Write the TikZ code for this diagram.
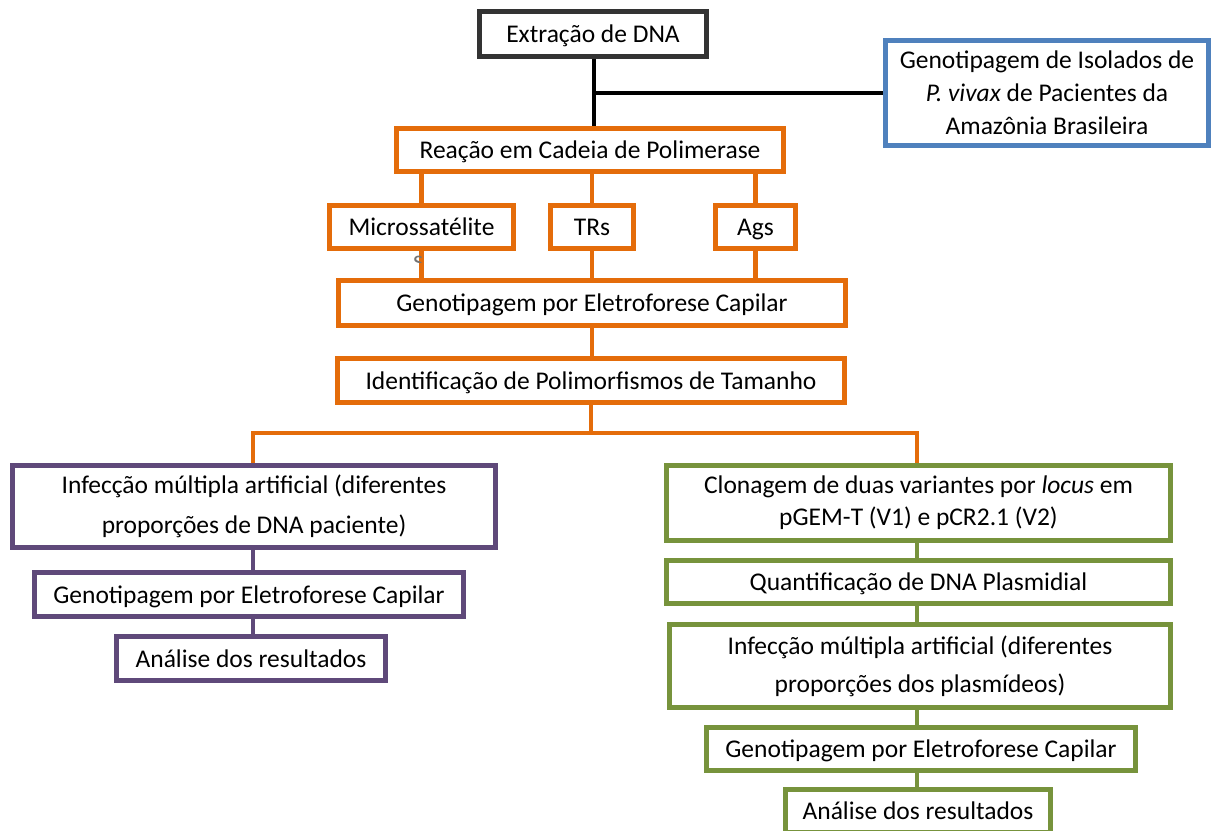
\documentclass[tikz,border=0pt]{standalone}
\usepackage{fontspec}
\setmainfont{Carlito}
\usetikzlibrary{backgrounds}
\definecolor{cor}{HTML}{E46C0A}
\definecolor{cpu}{HTML}{5F497A}
\definecolor{cgr}{HTML}{77933C}
\definecolor{cbl}{HTML}{4F81BD}
\definecolor{cdk}{HTML}{333333}
\tikzset{
  box/.style={draw, line width=5pt, fill=white, inner sep=0pt, align=center,
    font=\fontsize{25.5}{35}\selectfont},
  sline/.style={text height=17pt, text depth=0pt},
  obox/.style={box, draw=cor},
  pbox/.style={box, draw=cpu},
  gbox/.style={box, draw=cgr},
  bbox/.style={box, draw=cbl},
  kbox/.style={box, draw=cdk},
  conn/.style={line width=4.5pt},
}
\begin{document}
\begin{tikzpicture}[x=1pt, y=-1pt]
\useasboundingbox (0,0) rectangle (1214,830);
\begin{scope}
\clip (0,0) rectangle (1214,830);
% top
\node[kbox, sline, minimum width=227pt, minimum height=45pt] (ext) at (593,34) {Extração de DNA};
\node[bbox, minimum width=323pt, minimum height=105pt, font=\fontsize{25.5}{33}\selectfont] (iso) at (1047,93)
  {Genotipagem de Isolados de\\\textit{P. vivax} de Pacientes da\\Amazônia Brasileira};
\node[obox, sline, minimum width=387pt, minimum height=43pt] (pcr) at (590,150) {Reação em Cadeia de Polimerase};
% markers
\node[obox, sline, minimum width=184pt, minimum height=43pt] (mic) at (421.5,227) {Microssatélite};
\node[obox, sline, minimum width=83pt, minimum height=43pt] (trs) at (592,227) {TRs};
\node[obox, sline, minimum width=80pt, minimum height=43pt] (ags) at (755.5,227) {Ags};
\begin{scope}
\clip (400,248) rectangle (440,262);
\node[text=black!55, inner sep=0pt, font=\fontsize{25.5}{30}\selectfont] (sfrag) at (418,262) {s};
\end{scope}
\node[obox, sline, minimum width=507pt, minimum height=45pt] (gen) at (592,303) {Genotipagem por Eletroforese Capilar};
\node[obox, sline, minimum width=507pt, minimum height=44pt] (idp) at (591,380.5) {Identificação de Polimorfismos de Tamanho};
% left branch
\node[pbox, minimum width=483pt, minimum height=82pt, font=\fontsize{25.5}{40}\selectfont] (p1) at (254,506.5)
  {Infecção múltipla artificial (diferentes\\proporções de DNA paciente)};
\node[pbox, sline, minimum width=429pt, minimum height=44pt] (p2) at (249,594.5) {Genotipagem por Eletroforese Capilar};
\node[pbox, sline, minimum width=269pt, minimum height=44pt] (p3) at (251,658.5) {Análise dos resultados};
% right branch
\node[gbox, minimum width=504pt, minimum height=75pt, font=\fontsize{25.5}{32}\selectfont] (g1) at (918.5,503)
  {Clonagem de duas variantes por \textit{locus} em\\pGEM-T (V1) e pCR2.1 (V2)};
\node[gbox, sline, minimum width=504pt, minimum height=43pt] (g2) at (918.5,582) {Quantificação de DNA Plasmidial};
\node[gbox, minimum width=501pt, minimum height=83pt, font=\fontsize{25.5}{38}\selectfont] (g3) at (920,666)
  {Infecção múltipla artificial (diferentes\\proporções dos plasmídeos)};
\node[gbox, sline, minimum width=429pt, minimum height=43pt] (g4) at (921,749) {Genotipagem por Eletroforese Capilar};
\node[gbox, sline, minimum width=265pt, minimum height=43pt] (g5) at (918,811) {Análise dos resultados};
\end{scope}
\begin{scope}[on background layer]
\fill[white] (0,0) rectangle (1214,830);
% black connectors
\coordinate (jn) at ([xshift=1pt]ext.south |- 0,93);
\draw[conn, black] ([xshift=1pt]ext.south) -- ([xshift=1pt]ext.south |- pcr.north);
\draw[conn, black] (jn) -- (jn -| iso.west);
% orange connectors
\draw[conn, cor] (mic.north) -- (mic.north |- pcr.south);
\draw[conn, cor] (trs.north) -- (trs.north |- pcr.south);
\draw[conn, cor] (ags.north) -- (ags.north |- pcr.south);
\draw[conn, cor] (mic.south) -- (mic.south |- gen.north);
\draw[conn, cor] (trs.south) -- (trs.south |- gen.north);
\draw[conn, cor] (ags.south) -- (ags.south |- gen.north);
\draw[conn, cor] (gen.south) -- (gen.south |- idp.north);
\coordinate (br) at (idp.south |- 0,433);
\coordinate (bl) at (253,433);
\coordinate (brr) at (917,433);
\draw[conn, cor] (idp.south) -- (br);
\draw[conn, cor, line join=miter] (bl |- p1.north) -- (bl) -- (brr) -- (brr |- g1.north);
% purple connectors
\draw[conn, cpu] (p1.south -| bl) -- (p2.north -| bl);
\draw[conn, cpu] (p2.south -| bl) -- (p3.north -| bl);
% green connectors
\draw[conn, cgr] (g1.south -| brr) -- (g2.north -| brr);
\draw[conn, cgr] (g2.south -| brr) -- (g3.north -| brr);
\draw[conn, cgr] (g3.south -| brr) -- (g4.north -| brr);
\draw[conn, cgr] (g4.south -| brr) -- (g5.north -| brr);
\end{scope}
\end{tikzpicture}
\end{document}
